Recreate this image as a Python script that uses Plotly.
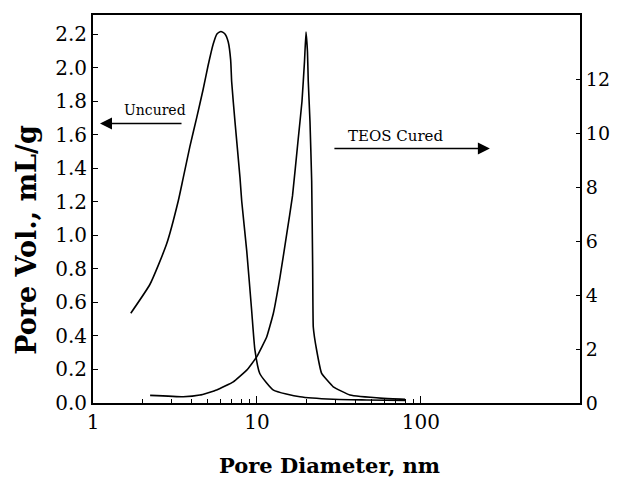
import plotly.graph_objects as go

# Uncured (left axis, mL/g)
uncured_d = [1.70, 2.23, 2.81, 3.31, 3.55, 3.90, 4.29, 4.69, 5.03, 5.41, 5.70, 6.03, 6.38, 6.68,
             6.91, 7.01, 7.34, 7.88, 8.07, 8.66, 9.28, 9.72, 10.4, 12.6, 18.3, 29.1, 46.7, 80.0]
uncured_v = [0.536, 0.710, 0.948, 1.205, 1.343, 1.531, 1.703, 1.869, 2.012, 2.142, 2.202, 2.217, 2.202, 2.154,
             2.047, 1.917, 1.680, 1.343, 1.205, 0.908, 0.552, 0.315, 0.176, 0.077, 0.037, 0.022, 0.018, 0.015]

# TEOS cured (right axis)
teos_d = [2.23, 3.55, 4.49, 5.68, 7.17, 8.66, 9.96, 11.46, 12.57, 13.81, 15.18, 16.47,
          17.78, 18.81, 19.49, 19.90, 20.32, 20.55, 21.05, 21.56, 21.86, 22.05, 23.12,
          24.80, 29.19, 36.9, 58.9, 80.0]
teos_v = [0.284, 0.232, 0.295, 0.480, 0.786, 1.218, 1.708, 2.446, 3.31, 4.66, 6.26, 7.68,
          9.70, 11.18, 12.66, 13.76, 13.03, 11.92, 10.44, 8.23, 5.03, 2.82, 1.956,
          1.096, 0.601, 0.295, 0.173, 0.14]

x_ticks = [1, 10, 100]
x_minor = [2, 3, 4, 5, 6, 7, 8, 9, 20, 30, 40, 50, 60, 70, 80, 90]
left_ticks = [0.0, 0.2, 0.4, 0.6, 0.8, 1.0, 1.2, 1.4, 1.6, 1.8, 2.0, 2.2]
right_ticks = [0, 2, 4, 6, 8, 10, 12]

SERIF = "DejaVu Serif"

fig = go.Figure()
fig.add_trace(go.Scatter(x=uncured_d, y=uncured_v, mode="lines", name="Uncured",
                         line=dict(color="black", width=1.6, shape="spline", smoothing=0.5),
                         yaxis="y"))
fig.add_trace(go.Scatter(x=teos_d, y=teos_v, mode="lines", name="TEOS Cured",
                         line=dict(color="black", width=1.6, shape="spline", smoothing=0.3),
                         yaxis="y2"))

# the page body adds an 8px offset, so the figure is 8px smaller than the window
fig.update_layout(
    width=610, height=482,
    margin=dict(l=85, r=38, t=5, b=87),
    paper_bgcolor="white", plot_bgcolor="white",
    showlegend=False,
    font=dict(family=SERIF, color="black", size=18),
    xaxis=dict(type="log", range=[0, 2.97],
               tickvals=x_ticks, ticktext=[str(v) for v in x_ticks],
               ticks="inside", ticklen=7, tickwidth=1.2, tickcolor="black",
               minor=dict(tickvals=x_minor, ticks="inside", ticklen=4, tickwidth=1, tickcolor="black", showgrid=False),
               showline=True, linecolor="black", linewidth=2, mirror=True,
               showgrid=False, zeroline=False,
               tickfont=dict(family=SERIF, size=20)),
    yaxis=dict(range=[0, 2.315], tickvals=left_ticks, ticktext=[f"{v:.1f}" for v in left_ticks],
               ticks="inside", ticklen=5, tickwidth=1, tickcolor="black",
               showline=True, linecolor="black", linewidth=2, mirror=True,
               showgrid=False, zeroline=False,
               tickfont=dict(family=SERIF, size=20)),
    yaxis2=dict(range=[0, 14.39], overlaying="y", side="right",
                tickvals=right_ticks, ticktext=[str(v) for v in right_ticks],
                ticks="inside", ticklen=4, tickwidth=1, tickcolor="black",
                showline=True, linecolor="black", linewidth=2,
                showgrid=False, zeroline=False,
                tickfont=dict(family=SERIF, size=19)),
)

# axis titles
fig.add_annotation(xref="paper", yref="paper", x=0, y=0.4205, xshift=-66,
                   text="<b>Pore Vol., mL/g</b>", textangle=-90,
                   xanchor="center", yanchor="middle", showarrow=False,
                   font=dict(family=SERIF, size=27))
fig.add_annotation(xref="paper", yref="paper", x=0.4846, y=-0.1615,
                   text="<b>Pore Diameter, nm</b>",
                   xanchor="center", yanchor="middle", showarrow=False,
                   font=dict(family=SERIF, size=21))

# labels with arrows
fig.add_annotation(xref="paper", yref="paper", x=0.127, y=0.756, text="Uncured",
                   xanchor="center", yanchor="middle",
                   showarrow=False, font=dict(family=SERIF, size=14))
fig.add_annotation(xref="paper", yref="paper", x=0.0144, y=0.7205, text="",
                   showarrow=True, ax=83, ay=0, arrowhead=2, arrowsize=1.6, arrowwidth=1.5,
                   arrowcolor="black")
fig.add_annotation(xref="paper", yref="paper", x=0.621, y=0.687, text="TEOS Cured",
                   xanchor="center", yanchor="middle",
                   showarrow=False, font=dict(family=SERIF, size=15))
fig.add_annotation(xref="paper", yref="paper", x=0.815, y=0.656, text="",
                   showarrow=True, ax=-157, ay=0, arrowhead=2, arrowsize=1.6, arrowwidth=1.5,
                   arrowcolor="black")

fig.write_html("out.html")
